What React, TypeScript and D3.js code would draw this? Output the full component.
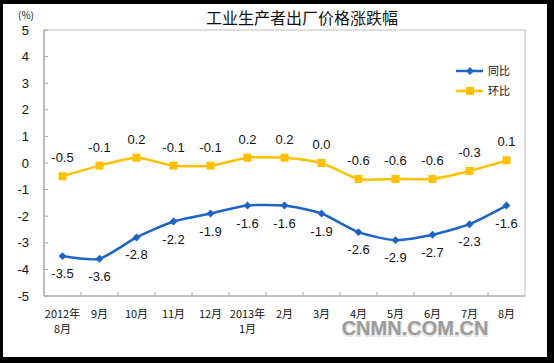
import React from "react";
import * as d3 from "d3";

const categories: string[][] = [
  ["2012年", "8月"], ["9月"], ["10月"], ["11月"], ["12月"], ["2013年", "1月"],
  ["2月"], ["3月"], ["4月"], ["5月"], ["6月"], ["7月"], ["8月"],
];
const yoy: number[] = [-3.5, -3.6, -2.8, -2.2, -1.9, -1.6, -1.6, -1.9, -2.6, -2.9, -2.7, -2.3, -1.6];
const mom: number[] = [-0.5, -0.1, 0.2, -0.1, -0.1, 0.2, 0.2, 0.0, -0.6, -0.6, -0.6, -0.3, 0.1];
const yTicks: number[] = [5, 4, 3, 2, 1, 0, -1, -2, -3, -4, -5];
const seriesNames = ["同比", "环比"];
const title = "工业生产者出厂价格涨跌幅";

const W = 554, H = 363;
const plot = { left: 44, right: 525, top: 30, bottom: 296 };
const BLUE = "#1E64C4";
const YELLOW = "#FFC000";
const FONT = "'Liberation Sans', Arial, 'Noto Sans CJK SC', sans-serif";
const CJK = "'Noto Sans CJK SC', 'Liberation Sans', sans-serif";

const locale = d3.formatLocale({ decimal: ".", thousands: ",", grouping: [3], currency: ["", ""], minus: "-" });
const fmt = locale.format(".1f");

export default function App() {
  const x = d3.scaleBand<number>().domain(d3.range(categories.length)).range([plot.left, plot.right]).padding(0);
  const y = d3.scaleLinear().domain([-5, 5]).range([plot.bottom, plot.top]);
  const cx = (i: number) => (x(i) as number) + x.bandwidth() / 2;
  const line = d3.line<number>().x((_, i) => cx(i)).y((d) => y(d)).curve(d3.curveCardinal.tension(0.35));

  return (
    <svg width={W} height={H} style={{ position: "absolute", left: 0, top: 0 }}>
      <rect x={0} y={0} width={W} height={H} fill="#000" />
      <rect x={3} y={4} width={544} height={353} fill="#fff" />
      <text x={302} y={24} textAnchor="middle" fontFamily={CJK} fontSize={16} fill="#111">{title}</text>
      <text x={26} y={19} textAnchor="middle" fontFamily={CJK} fontSize={10} fill="#222">(%)</text>

      {/* frame */}
      <rect x={plot.left} y={plot.top} width={plot.right - plot.left} height={plot.bottom - plot.top} fill="none" stroke="#BEBEBE" strokeWidth={1} />
      <line x1={plot.left} x2={plot.left} y1={plot.top} y2={plot.bottom} stroke="#A6A6A6" strokeWidth={1.2} />
      <line x1={plot.left} x2={plot.right} y1={plot.bottom} y2={plot.bottom} stroke="#A6A6A6" strokeWidth={1.2} />

      {yTicks.map((t) => (
        <g key={"y" + t}>
          <line x1={plot.left} x2={plot.left + 4} y1={y(t)} y2={y(t)} stroke="#A6A6A6" />
          <text x={29} y={y(t) + 4.5} textAnchor="end" fontFamily={FONT} fontSize={13} fill="#111">{t}</text>
        </g>
      ))}

      {categories.map((c, i) => (
        <g key={"x" + i}>
          {i > 0 && (
            <line x1={x(i) as number} x2={x(i) as number} y1={plot.bottom} y2={plot.bottom - 4} stroke="#A6A6A6" />
          )}
          {c.map((s, k) => (
            <text key={k} x={cx(i)} y={318 + k * 15} textAnchor="middle" fontFamily={CJK} fontSize={11} fill="#111">{s}</text>
          ))}
        </g>
      ))}

      {/* watermark */}
      <text x={415} y={336} textAnchor="middle" fontFamily={FONT} fontWeight="bold" fontSize={20} fill="#e4e4e4" stroke="#e4e4e4" strokeWidth={2}>CNMN.COM.CN</text>
      <text x={415} y={335} textAnchor="middle" fontFamily={FONT} fontWeight="bold" fontSize={20} fill="#9c9c9c">CNMN.COM.CN</text>

      {/* series */}
      <path d={line(mom) || ""} fill="none" stroke={YELLOW} strokeWidth={2.5} />
      <path d={line(yoy) || ""} fill="none" stroke={BLUE} strokeWidth={2.5} />
      {mom.map((v, i) => (
        <g key={"m" + i}>
          <rect x={cx(i) - 4} y={y(v) - 4} width={8} height={8} fill={YELLOW} />
          <text x={cx(i)} y={y(v) - 14} textAnchor="middle" fontFamily={FONT} fontSize={13} fill="#111">{fmt(v)}</text>
        </g>
      ))}
      {yoy.map((v, i) => (
        <g key={"b" + i}>
          <path d={d3.symbol(d3.symbolDiamond2, 40)() || ""} transform={`translate(${cx(i)},${y(v)})`} fill={BLUE} />
          <text x={cx(i)} y={y(v) + 22} textAnchor="middle" fontFamily={FONT} fontSize={13} fill="#111">{fmt(v)}</text>
        </g>
      ))}

      {/* legend */}
      {seriesNames.map((n, k) => {
        const ly = 71 + k * 20;
        const col = k === 0 ? BLUE : YELLOW;
        return (
          <g key={"l" + k}>
            <line x1={456} x2={483} y1={ly} y2={ly} stroke={col} strokeWidth={2.5} />
            {k === 0 ? (
              <path d={d3.symbol(d3.symbolDiamond2, 40)() || ""} transform={`translate(470,${ly})`} fill={col} />
            ) : (
              <rect x={466} y={ly - 4} width={8} height={8} fill={col} />
            )}
            <text x={488} y={ly + 4} fontFamily={CJK} fontSize={11} fill="#111">{n}</text>
          </g>
        );
      })}
    </svg>
  );
}
